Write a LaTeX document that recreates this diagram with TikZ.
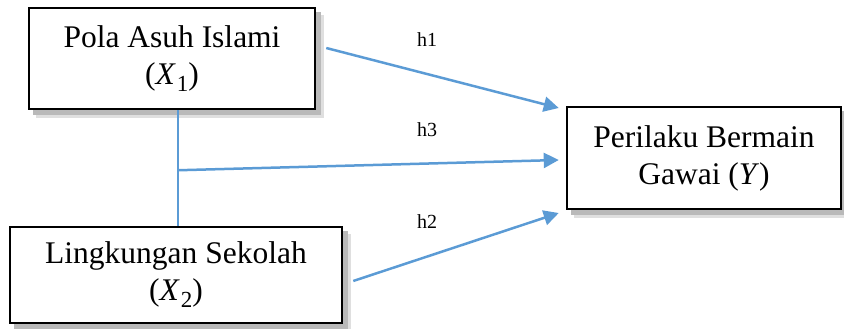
\documentclass[tikz,border=0pt]{standalone}
\usepackage{fontspec}
\setmainfont{Liberation Serif}
\usetikzlibrary{arrows.meta,calc,backgrounds}
\definecolor{linkblue}{RGB}{91,155,213}
\newcommand\varsub[2]{\textit{#1}\kern1pt\raisebox{-0.22em}{\fontsize{23}{23}\selectfont #2}}
\begin{document}
\begin{tikzpicture}[x=1pt,y=-1pt,
  box/.style={draw=black,line width=2.5pt,fill=white,align=center,inner sep=0pt,
    font=\fontsize{31.5}{37}\selectfont},
  shadeA/.style={fill=gray!25},
  shadeB/.style={fill=gray!55},
  conn/.style={draw=linkblue,line width=2.5pt,-{Triangle[length=15pt,width=15pt]}},
  tie/.style={draw=linkblue,line width=1.2pt},
  lbl/.style={font=\fontsize{20}{24}\selectfont}]
\useasboundingbox (0,0) rectangle (844,329);
\node[box,minimum width=286pt,minimum height=101pt] (b1) at (172,58.5) {Pola Asuh Islami\\(\varsub{X}{1})};
\node[box,minimum width=332pt,minimum height=96pt] (b2) at (176,275) {Lingkungan Sekolah\\(\varsub{X}{2})};
\node[box,minimum width=274pt,minimum height=102pt] (b3) at (704,158) {Perilaku Bermain\\Gawai (\textit{Y})};
\begin{scope}[on background layer]
  \foreach \b in {b1,b2,b3}{
    \fill[shadeA] ($(\b.north west)+(8,8)$) rectangle ($(\b.south east)+(8,8)$);
    \fill[shadeB] ($(\b.north west)+(5,5)$) rectangle ($(\b.south east)+(5,5)$);
  }
\end{scope}
\coordinate (t1) at ($(b1.south)+(6,0)$);
\coordinate (t2) at ($(b2.north)+(2,0)$);
\coordinate (v) at ($(b1.south)+(6,60)$);
\draw[tie] (t1) -- (t2);
\draw[conn] ($(b1.east)+(10,-10.5)$) -- ($(b3.west)+(-7,-50)$);
\draw[conn] (v) -- ($(b3.west)+(-7,2)$);
\draw[conn] ($(b2.east)+(10,6)$) -- ($(b3.west)+(-7,55)$);
\node[lbl] (l1) at (427,40) {h1};
\node[lbl] (l3) at (427,130) {h3};
\node[lbl] (l2) at (427,222) {h2};
\end{tikzpicture}
\end{document}
